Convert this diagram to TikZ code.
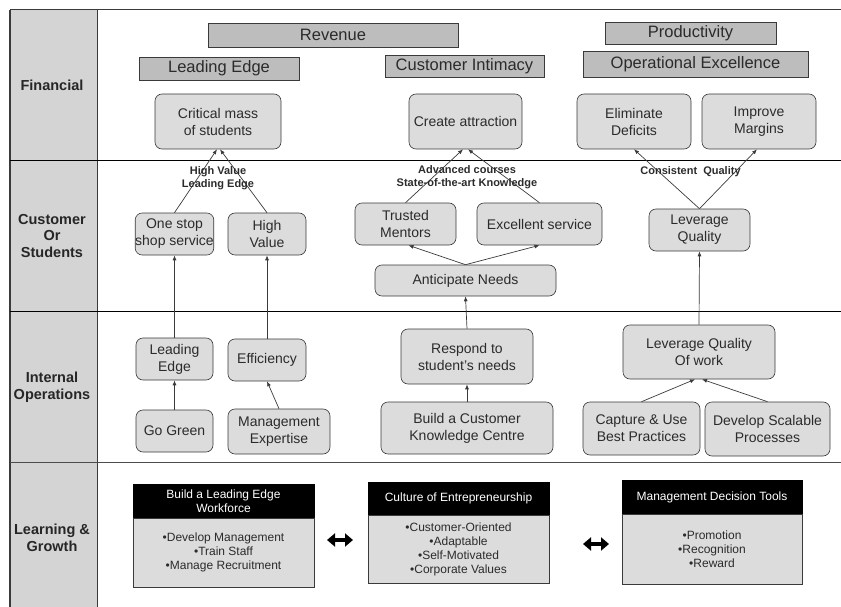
\documentclass[tikz,border=0pt]{standalone}
\usepackage{fontspec}
\setmainfont{Liberation Sans}
\usetikzlibrary{arrows.meta}

\definecolor{colgray}{HTML}{d4d4d4}
\definecolor{boxgray}{HTML}{dcdcdc}
\definecolor{hdrgray}{HTML}{bdbdbd}
\definecolor{txtgray}{HTML}{2b2b2b}
\definecolor{edgegray}{HTML}{3a3a3a}

\begin{document}
\begin{tikzpicture}[x=1pt,y=-1pt]
    \useasboundingbox (0,0) rectangle (841,607);
    \begin{scope}[all/.style={draw=edgegray, fill=boxgray, rounded corners=7pt, align=center, inner sep=0pt, text=txtgray, font=\fontsize{14}{17}\selectfont, line width=0.6pt},
                  hdr/.style={draw=edgegray, fill=hdrgray, inner sep=0pt, text=txtgray, font=\fontsize{16.5}{19}\selectfont, line width=0.8pt},
                  top/.style={draw=black, fill=black, text=white, inner sep=0pt, align=center, font=\fontsize{12}{14.5}\selectfont, line width=0.6pt},
                  body/.style={draw=edgegray, fill=boxgray, inner sep=0pt, align=center, text=txtgray, font=\fontsize{12}{14}\selectfont, line width=0.6pt},
                  lab/.style={align=center, text=black!85, font=\bfseries\fontsize{14.5}{16.5}\selectfont},
                  note/.style={align=center, text=txtgray, font=\bfseries\fontsize{11}{12.5}\selectfont},
                  dbl/.style={line width=4.5pt, {Triangle[length=8pt,width=13pt]}-{Triangle[length=8pt,width=13pt]}}]
        % frame
        \fill[colgray] (10,10) rectangle (97,607);
        \draw[edgegray, line width=1.2pt] (10,10) -- (10,607);
        \draw[edgegray, line width=1pt] (97,10) -- (97,607);
        \draw[edgegray, line width=1pt] (10,10) -- (841,10);
        \draw[black, line width=0.7pt] (10,160) -- (841,160);
        \draw[black, line width=0.7pt] (10,311) -- (841,311);
        \draw[black!70, line width=0.7pt] (10,462) -- (841,462);
        \node[lab] (r1) at (52,85) {Financial};
        \node[lab] (r2) at (52,236) {Customer\\Or\\Students};
        \node[lab] (r3) at (52,387) {Internal\\Operations};
        \node[lab] (r4) at (52,538) {Learning \&\\Growth};
        % headers
        \node[hdr, minimum width=250pt, minimum height=24pt] (h1) at (333,35) {Revenue};
        \node[hdr, minimum width=160pt, minimum height=23pt] (h2) at (219,68.5) {Leading Edge};
        \node[hdr, minimum width=159pt, minimum height=22pt] (h3) at (464.5,66) {Customer Intimacy};
        \node[hdr, minimum width=171pt, minimum height=22pt] (h4) at (690.5,33) {Productivity};
        \node[hdr, minimum width=225pt, minimum height=26pt] (h5) at (695.5,64) {Operational Excellence};
        % financial
        \node[all, minimum width=126pt, minimum height=55pt] (b1) at (218,121.5) {Critical mass\\of students};
        \node[all, minimum width=113pt, minimum height=55pt] (b2) at (465.5,121.5) {Create attraction};
        \node[all, minimum width=114pt, minimum height=55pt] (b3) at (634,121.5) {Eliminate\\Deficits};
        \node[all, minimum width=114pt, minimum height=55pt] (b4) at (759,121.5) {Improve\\Margins};
        % customer
        \node[all, minimum width=77pt, minimum height=42pt] (b5) at (174.5,234) {One stop\\shop service};
        \node[all, minimum width=78pt, minimum height=42pt] (b6) at (267,234) {High\\Value};
        \node[all, minimum width=101pt, minimum height=42pt] (b7) at (405.5,224) {Trusted\\Mentors};
        \node[all, minimum width=125pt, minimum height=42pt] (b8) at (539.5,224) {Excellent service};
        \node[all, minimum width=181pt, minimum height=31pt] (b9) at (465.5,280.5) {Anticipate Needs};
        \node[all, minimum width=101pt, minimum height=42pt] (b10) at (699.5,230) {Leverage\\Quality};
        % internal
        \node[all, minimum width=77pt, minimum height=42pt] (b11) at (174.5,359) {Leading\\Edge};
        \node[all, minimum width=78pt, minimum height=42pt] (b12) at (267,360) {Efficiency};
        \node[all, minimum width=77pt, minimum height=42pt] (b13) at (174.5,431) {Go Green};
        \node[all, minimum width=102pt, minimum height=45pt] (b14) at (279,431.5) {Management\\Expertise};
        \node[all, minimum width=132pt, minimum height=55pt] (b15) at (467,356.5) {Respond to\\student's needs};
        \node[all, minimum width=172pt, minimum height=52pt] (b16) at (467,428) {Build a Customer\\Knowledge Centre};
        \node[all, minimum width=152pt, minimum height=54pt] (b17) at (699,352) {Leverage Quality\\Of work};
        \node[all, minimum width=117pt, minimum height=53pt] (b18) at (641.5,428.5) {Capture \& Use\\Best Practices};
        \node[all, minimum width=125pt, minimum height=54pt] (b19) at (767.5,429) {Develop Scalable\\Processes};
        % learning & growth
        \node[top, minimum width=181pt, minimum height=34pt] (t1) at (223.5,501) {Build a Leading Edge\\Workforce};
        \node[body, minimum width=181pt, minimum height=69pt] (l1) at (223.5,552.5) {\textbullet Develop Management\\\textbullet Train Staff\\\textbullet Manage Recruitment};
        \node[top, minimum width=181pt, minimum height=33pt] (t2) at (458.5,498.5) {Culture of Entrepreneurship};
        \node[body, minimum width=181pt, minimum height=68pt] (l2) at (458.5,549) {\textbullet Customer-Oriented\\\textbullet Adaptable\\\textbullet Self-Motivated\\\textbullet Corporate Values};
        \node[top, minimum width=180pt, minimum height=34pt] (t3) at (712,497) {Management Decision Tools};
        \node[body, minimum width=180pt, minimum height=70pt] (l3) at (712,549) {\textbullet Promotion\\\textbullet Recognition\\\textbullet Reward};
        \coordinate (d1) at (327,540);
        \coordinate (d2) at (353,540);
        \coordinate (d3) at (583,544);
        \coordinate (d4) at (609,544);
        \draw[dbl] (d1) -- (d2);
        \draw[dbl] (d3) -- (d4);
        % arrows
        \begin{scope}[edgegray, line width=0.7pt, -{Latex[length=5pt,width=4pt]}]
        \path (b5.north) edge ([xshift=-1pt]b1.south);
        \path (b6.north) edge ([xshift=2pt]b1.south);
        \path (b7.north) edge ([xshift=-2.5pt]b2.south);
        \path (b8.north) edge ([xshift=2.5pt]b2.south);
        \path (b9.north) edge ([xshift=3pt]b7.south);
        \path (b9.north) edge (b8.south);
        \path (b10.north) edge (b3.south);
        \path (b10.north) edge ([xshift=-2pt]b4.south);
        \path (b11.north) edge (b5.south);
        \path (b12.north) edge (b6.south);
        \path (b13.north) edge (b11.south);
        \path (b14.north) edge (b12.south);
        \path (b15.north) edge (b9.south);
        \path (b16.north) edge (b15.south);
        \path (b17.north) edge (b10.south);
        \path (b18.north) edge ([xshift=-4pt]b17.south);
        \path (b19.north) edge ([xshift=3pt]b17.south);
        \end{scope}
        \node[note] (n1) at (218,178) {High Value\\Leading Edge};
        \node[note] (n2) at (467,177) {Advanced courses\\State-of-the-art Knowledge};
        \node[note] (n3) at (690.5,172) {Consistent\ \ Quality};
    \end{scope}
\end{tikzpicture}
\end{document}
